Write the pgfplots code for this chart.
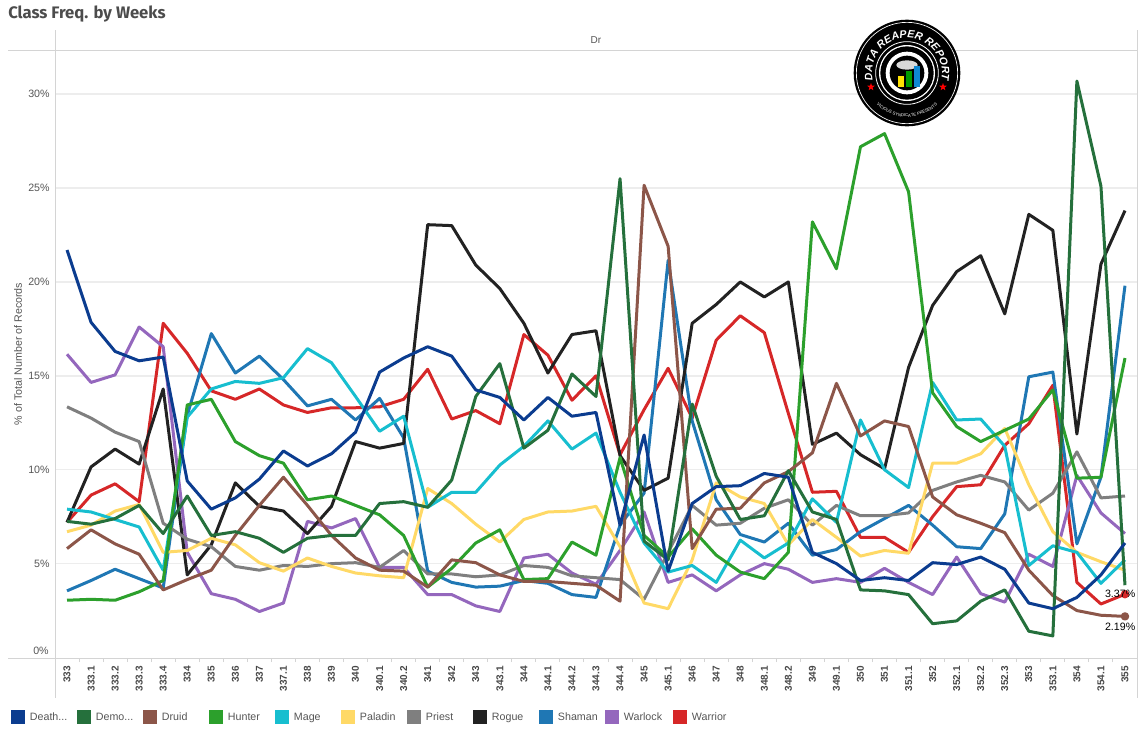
\documentclass[border=0pt]{standalone}
\usepackage{fontspec}
\setmainfont{Liberation Sans}
\newfontfamily\titlefont{Fira Sans}
\usepackage{pgfplots}
\pgfplotsset{compat=1.18}
\usetikzlibrary{decorations.text,shapes.geometric}

\definecolor{cDeath}{HTML}{0B3C8F}
\definecolor{cDemon}{HTML}{25703C}
\definecolor{cDruid}{HTML}{8C5649}
\definecolor{cHunter}{HTML}{2CA02C}
\definecolor{cMage}{HTML}{17BECF}
\definecolor{cPaladin}{HTML}{FFD966}
\definecolor{cPriest}{HTML}{7F7F7F}
\definecolor{cRogue}{HTML}{222222}
\definecolor{cShaman}{HTML}{1F77B4}
\definecolor{cWarlock}{HTML}{9467BD}
\definecolor{cWarrior}{HTML}{D62728}
\definecolor{txt}{HTML}{555555}
\definecolor{frame}{HTML}{D4D4D4}
\definecolor{gridc}{HTML}{EDEDED}

% index 0..44 = 333, 333.1, ... 355
\pgfplotstableread{
i  death demon druid hunter mage paladin priest rogue shaman warlock warrior
0  21.7  7.25  5.8   3.05  7.9   6.7   13.35 7.2   3.55  16.15 7.2
1  17.85 7.1   6.8   3.1   7.75  7.05  12.75 10.15 4.1   14.65 8.65
2  16.3  7.4   6.05  3.05  7.35  7.8   12.0  11.1  4.7   15.05 9.25
3  15.8  8.1   5.5   3.5   6.95  8.15  11.5  10.3  4.2   17.6  8.3
4  16.0  6.6   3.6   4.1   4.65  5.6   7.15  14.3  3.7   16.55 17.8
5  9.4   8.6   4.15  13.45 12.8  5.7   6.3   4.4   12.9  5.6   16.2
6  7.9   6.5   4.65  13.75 14.3  6.35  5.9   6.0   17.25 3.4   14.2
7  8.5   6.7   6.5   11.5  14.7  6.0   4.85  9.3   15.15 3.1   13.75
8  9.5   6.35  8.1   10.75 14.6  5.05  4.65  8.05  16.05 2.45  14.3
9  11.0  5.6   9.6   10.35 14.9  4.6   4.9   7.8   14.8  2.9   13.45
10 10.2  6.35  8.1   8.4   16.45 5.3   4.85  6.6   13.4  7.25  13.05
11 10.85 6.5   6.5   8.6   15.7  4.85  5.0   8.05  13.75 6.9   13.3
12 12.0  6.5   5.3   8.1   13.9  4.5   5.05  11.5  12.65 7.4   13.3
13 15.2  8.2   4.65  7.6   12.05 4.35  4.8   11.15 13.8  4.8   13.35
14 15.95 8.3   4.6   6.5   12.85 4.25  5.7   11.4  11.7  4.8   13.75
15 16.55 8.0   3.75  3.75  8.0   9.0   4.45  23.05 4.6   3.35  15.35
16 16.05 9.45  5.2   4.75  8.8   8.2   4.45  23.0  4.0   3.35  12.7
17 14.25 13.9  5.05  6.1   8.8   7.1   4.3   20.9  3.75  2.75  13.15
18 13.85 15.65 4.4   6.8   10.25 6.15  4.4   19.65 3.8   2.45  12.45
19 12.65 11.15 4.05  4.15  11.25 7.35  4.9   17.8  4.1   5.3   17.2
20 13.85 12.1  4.05  4.2   12.6  7.75  4.8   15.15 3.95  5.5   16.1
21 12.85 15.1  3.95  6.15  11.1  7.8   4.35  17.2  3.35  4.5   13.7
22 13.05 13.9  3.85  5.45  11.95 8.05  4.25  17.4  3.2   3.9   15.0
23 7.05  25.5  3.0   10.65 8.8   5.9   4.15  10.75 7.05  5.7   10.8
24 11.85 6.2   25.15 6.5   6.1   2.9   3.1   8.9   8.75  7.75  13.2
25 4.6   5.2   21.9  5.35  4.55  2.6   5.6   9.55  21.15 4.0   15.4
26 8.2   13.5  5.8   6.85  4.9   5.2   8.1   17.8  12.6  4.4   12.75
27 9.1   9.65  7.9   5.45  4.0   9.3   7.05  18.8  8.4   3.55  16.9
28 9.15  7.35  7.95  4.55  6.25  8.55  7.15  20.0  6.55  4.4   18.2
29 9.8   7.55  9.3   4.2   5.3   8.2   7.95  19.2  6.15  5.0   17.3
30 9.6   9.95  9.9   5.6   6.1   6.0   8.4   20.0  7.15  4.7   13.0
31 5.6   7.75  10.9  23.2  8.45  7.35  7.05  11.35 5.45  4.0   8.8
32 5.0   7.35  14.6  20.7  7.2   6.4   8.1   11.95 5.75  4.2   8.85
33 4.1   3.6   11.8  27.2  12.65 5.4   7.55  10.8  6.7   4.0   6.4
34 4.25  3.55  12.6  27.9  10.0  5.7   7.55  10.05 7.4   4.75  6.4
35 4.1   3.35  12.3  24.8  9.05  5.55  7.7   15.45 8.1   4.0   5.6
36 5.05  1.8   8.55  14.1  14.65 10.35 8.9   18.75 7.05  3.35  7.5
37 4.95  1.95  7.6   12.3  12.65 10.35 9.35  20.55 5.9   5.35  9.1
38 5.35  3.0   7.15  11.5  12.7  10.85 9.7   21.4  5.8   3.4   9.2
39 4.7   3.6   6.65  12.1  11.25 12.2  9.35  18.3  7.65  2.95  11.3
40 2.9   1.4   4.65  12.7  4.9   9.2   7.85  23.6  14.95 5.5   12.45
41 2.6   1.15  3.3   14.25 5.95  6.7   8.75  22.75 15.2  4.85  14.5
42 3.2   30.7  2.5   9.55  5.6   5.6   10.95 11.9  6.05  9.7   4.0
43 4.4   25.1  2.25  9.6   3.95  5.1   8.5   20.95 9.6   7.7   2.85
44 6.1   3.85  2.19  15.95 5.2   4.65  8.6   23.8  19.8  6.6   3.37
}\classfreq

\begin{document}
\begin{tikzpicture}[x=0.75pt,y=-0.75pt,font=\fontsize{7.5}{9}\selectfont]
\path[use as bounding box] (0,0) rectangle (1146,733);
\begin{axis}[
    at={(41.25pt,-493.125pt)}, anchor=south west,
    scale only axis,
    width=811.5pt, height=455.6pt,
    xmin=-0.5, xmax=44.5,
    ymin=0, ymax=32.35,
    clip=false,
    axis line style={draw=none},
    xtick={0,...,44},
    xticklabels={333,333.1,333.2,333.3,333.4,334,335,336,337,337.1,338,339,340,340.1,340.2,341,342,343,343.1,344,344.1,344.2,344.3,344.4,345,345.1,346,347,348,348.1,348.2,349,349.1,350,351,351.1,352,352.1,352.2,352.3,353,353.1,354,354.1,355},
    minor xtick={-0.5,0.5,...,44.5},
    ytick={5,10,15,20,25,30},
    yticklabels={5\%,10\%,15\%,20\%,25\%,30\%},
    ymajorgrids=true,
    grid style={gridc,line width=1.1pt},
    major tick length=0pt,
    minor tick length=3.5pt,
    tick align=outside,
    minor tick style={frame,line width=0.75pt},
    xtick pos=lower, ytick pos=left,
    xticklabel style={rotate=90,anchor=east,font=\fontsize{7.5}{9}\selectfont\bfseries,text=txt!85!black,xshift=-3pt},
    yticklabel style={font=\fontsize{8}{9}\selectfont,text=txt,xshift=-0.5pt},
    every axis plot/.append style={line width=2.25pt,line join=round,no markers},
    legend style={at={(-0.0407,-0.0872)},anchor=north west,draw=none,fill=none,inner sep=0pt,outer sep=0pt,
        font=\fontsize{8}{9}\selectfont,text=txt,legend columns=-1,
        nodes={inner sep=0pt,outer sep=0pt,text height=6pt,text depth=1.5pt},
        /tikz/every even column/.style={column sep=0pt},
        row sep=0pt},
    legend cell align=left,
    legend image code/.code={\fill[#1,draw=none] (0pt,-5.25pt) rectangle (10.5pt,5.25pt); \path[draw=none,fill=none] (0pt,0pt) -- (14.25pt,0pt);},
    reverse legend,
]
\addplot[cWarrior] table[x=i,y=warrior]{\classfreq};
\addlegendentry[text width=30pt]{Warrior}
\addplot[cWarlock] table[x=i,y=warlock]{\classfreq};
\addlegendentry[text width=36.75pt]{Warlock}
\addplot[cShaman] table[x=i,y=shaman]{\classfreq};
\addlegendentry[text width=35.25pt]{Shaman}
\addplot[cRogue] table[x=i,y=rogue]{\classfreq};
\addlegendentry[text width=35.25pt]{Rogue}
\addplot[cPriest] table[x=i,y=priest]{\classfreq};
\addlegendentry[text width=35.25pt]{Priest}
\addplot[cPaladin] table[x=i,y=paladin]{\classfreq};
\addlegendentry[text width=35.25pt]{Paladin}
\addplot[cMage] table[x=i,y=mage]{\classfreq};
\addlegendentry[text width=35.25pt]{Mage}
\addplot[cHunter] table[x=i,y=hunter]{\classfreq};
\addlegendentry[text width=35.25pt]{Hunter}
\addplot[cDruid] table[x=i,y=druid]{\classfreq};
\addlegendentry[text width=35.25pt]{Druid}
\addplot[cDemon] table[x=i,y=demon]{\classfreq};
\addlegendentry[text width=35.25pt]{Demo...}
\addplot[cDeath] table[x=i,y=death]{\classfreq};
\addlegendentry[text width=35.25pt]{Death...}
\addplot[cWarrior,forget plot,only marks,mark=*,mark size=2pt,mark options={draw=none,fill=cWarrior}] coordinates {(44,3.37)};
\addplot[cDruid,forget plot,only marks,mark=*,mark size=2pt,mark options={draw=none,fill=cDruid}] coordinates {(44,2.19)};
\end{axis}

% frame
\draw[frame,line width=0.75pt] (55,30) -- (55,698);
\draw[frame,line width=0.75pt] (1137,30) -- (1137,698);
\draw[frame,line width=0.75pt] (8,658) -- (1137,658);
\draw[frame,line width=0.75pt] (8,50) -- (1137,50);

% texts
\node[anchor=west,inner sep=0pt,text=txt!90!black,font=\fontsize{12.5}{14}\titlefont\bfseries] at (8,14.5) {Class Freq. by Weeks};
\node[inner sep=0pt,text=txt,font=\fontsize{7.5}{9}\selectfont] at (596,40) {Dr};
\node[inner sep=0pt,rotate=90,text=txt,font=\fontsize{8}{9}\selectfont] at (18,354) {\% of Total Number of Records};
\node[anchor=east,inner sep=0pt,text=txt,font=\fontsize{8}{9}\selectfont] at (49,651) {0\%};
\node[anchor=east,inner sep=0pt,font=\fontsize{8}{9}\selectfont] at (1135.5,594) {3.37\%};
\node[anchor=east,inner sep=0pt,font=\fontsize{8}{9}\selectfont] at (1135.5,627) {2.19\%};

% logo
\fill[black] (907,73) circle (40pt);
\draw[white,line width=0.5pt] (907,73) circle (38pt);
\draw[white,line width=0.6pt] (907,73) circle (23.5pt);
\fill[white] (907,73) circle (21pt);
\fill[black] (907,73) circle (20pt);
\fill[white] (907,73) circle (16pt);
\fill[black] (907,73) circle (13pt);
\fill[white!85!black] (907,65) ellipse (8pt and 3.5pt);
\path[decorate,decoration={text along path,text align=center,
    text={|\fontsize{8}{9}\bfseries\itshape\color{white}|DATA REAPER REPORT}}]
    (907,73) ++(-200:35) arc[start angle=-200,end angle=20,radius=35];
\path[decorate,decoration={text along path,text align=center,
    text={|\fontsize{3.2}{4}\selectfont\color{white}|VICIOUS SYNDICATE PRESENTS}}]
    (907,73) ++(145:44) arc[start angle=145,end angle=35,radius=44];
\node[star,star points=5,star point ratio=2.4,fill=red,inner sep=0pt,minimum size=6pt] at (871,87) {};
\node[star,star points=5,star point ratio=2.4,fill=red,inner sep=0pt,minimum size=6pt] at (943,87) {};
\fill[yellow!85!orange] (898,76) rectangle (904,87);
\fill[green!60!black] (906,71) rectangle (912,87);
\fill[cyan!70!blue] (914,66) rectangle (920,87);
\end{tikzpicture}
\end{document}
